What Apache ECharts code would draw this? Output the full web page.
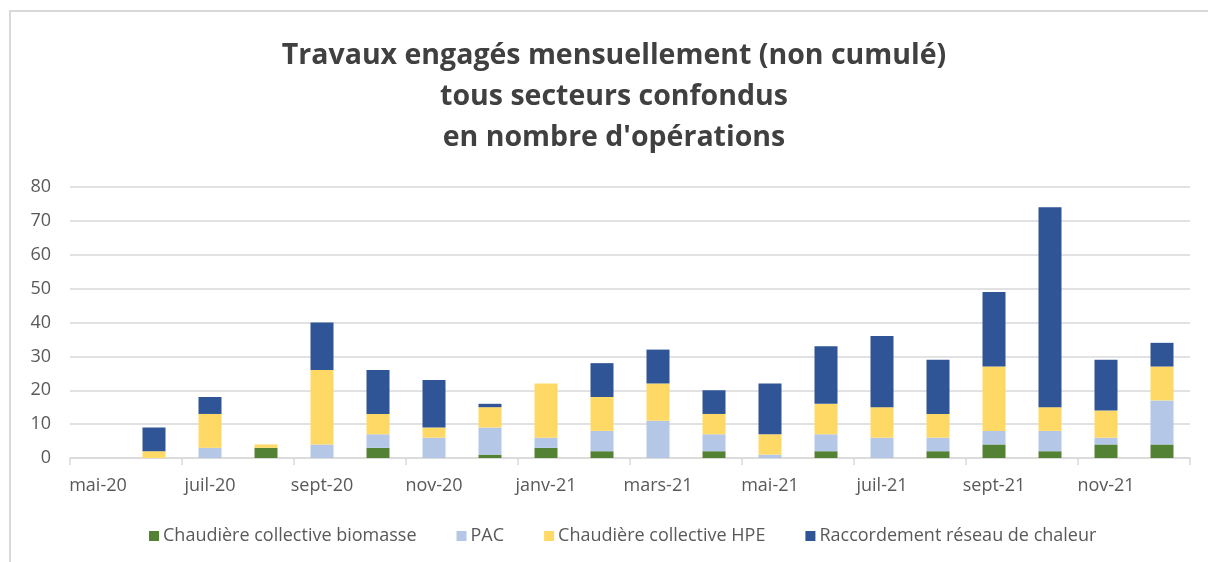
<!DOCTYPE html>
<html>
<head>
<meta charset="utf-8">
<script src="https://cdn.jsdelivr.net/npm/echarts@6/dist/echarts.min.js"></script>
<style>
html,body{margin:0;padding:0;background:#fff;}
#c{width:1208px;height:562px;}
</style>
</head>
<body>
<div id="c"></div>
<script>
const months = ['mai-20','juin-20','juil-20','août-20','sept-20','oct-20','nov-20','déc-20','janv-21','févr-21','mars-21','avr-21','mai-21','juin-21','juil-21','août-21','sept-21','oct-21','nov-21','déc-21'];
const biomasse = [0,0,0,3,0,3,0,1,3,2,0,2,0,2,0,2,4,2,4,4];
const pac      = [0,0,3,0,4,4,6,8,3,6,11,5,1,5,6,4,4,6,2,13];
const hpe      = [0,2,10,1,22,6,3,6,16,10,11,6,6,9,9,7,19,7,8,10];
const reseau   = [0,7,5,0,14,13,14,1,0,10,10,7,15,17,21,16,22,59,15,7];
const yTicks = [0,10,20,30,40,50,60,70,80];
const titleLines = ['Travaux engagés mensuellement (non cumulé)','tous secteurs confondus',"en nombre d'opérations"];

const chart = echarts.init(document.getElementById('c'));
const font = '"Open Sans", "Liberation Sans", sans-serif';
function s(name, data, color){
  return {name, type:'bar', stack:'t', data, barWidth:23,
    itemStyle:{color, borderWidth:0}};
}
chart.setOption({
  animation:false,
  backgroundColor:'#fff',
  graphic:[{type:'rect', shape:{x:10,y:11,width:1220,height:600}, style:{fill:'none', stroke:'#d9d9d9', lineWidth:2}, silent:true}],
  title:{text:titleLines.join('\n'), left:609, textAlign:'center', top:30,
    textStyle:{fontFamily:font, fontWeight:'bold', fontSize:28.5, color:'#404040', lineHeight:41}},
  legend:{bottom:12, left:144, itemWidth:10, itemHeight:10, itemGap:40, icon:'rect',
    textStyle:{fontFamily:font, fontSize:18, color:'#595959', padding:[0,0,0,-1]}},
  grid:{left:70, right:18, top:187, bottom:104, containLabel:false},
  xAxis:{type:'category', data:months, boundaryGap:true,
    axisLine:{lineStyle:{color:'#d9d9d9', width:1.5}},
    axisTick:{show:true, interval:1, length:7, lineStyle:{color:'#d9d9d9', width:1.5}},
    axisLabel:{interval:1, margin:19, fontFamily:font, fontSize:18, color:'#595959'}},
  yAxis:{type:'value', min:yTicks[0], max:yTicks[yTicks.length-1], interval:10,
    axisLine:{show:false}, axisTick:{show:false},
    splitLine:{lineStyle:{color:'#d9d9d9', width:1.5}},
    axisLabel:{margin:19, fontFamily:font, fontSize:18, color:'#595959'}},
  series:[
    s('Chaudière collective biomasse', biomasse, '#548235'),
    s('PAC', pac, '#B4C7E7'),
    s('Chaudière collective HPE', hpe, '#FFD966'),
    s('Raccordement réseau de chaleur', reseau, '#2F5597')
  ]
});
</script>
</body>
</html>
